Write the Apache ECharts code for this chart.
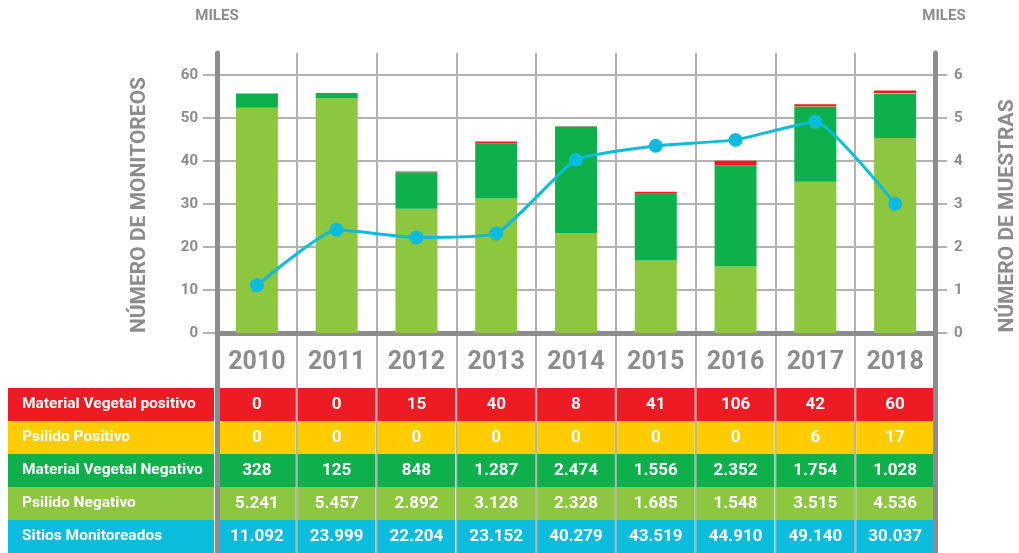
<!DOCTYPE html>
<html>
<head>
<meta charset="utf-8">
<title>Monitoreos</title>
<script src="https://cdn.jsdelivr.net/npm/echarts@6/dist/echarts.min.js"></script>
<style>
  html, body { margin: 0; padding: 0; background: #fff; }
  #chart { width: 1019px; height: 553px; }
</style>
</head>
<body>
<div id="chart"></div>
<script>
const years = ['2010', '2011', '2012', '2013', '2014', '2015', '2016', '2017', '2018'];
const rowLabels = ['Material Vegetal positivo', 'Psilido Positivo', 'Material Vegetal Negativo', 'Psilido Negativo', 'Sitios Monitoreados'];
const matVegPositivo = [0, 0, 15, 40, 8, 41, 106, 42, 60];
const psilidoPositivo = [0, 0, 0, 0, 0, 0, 0, 6, 17];
const matVegNegativo = [328, 125, 848, 1287, 2474, 1556, 2352, 1754, 1028];
const psilidoNegativo = [5241, 5457, 2892, 3128, 2328, 1685, 1548, 3515, 4536];
const sitiosMonitoreados = [11092, 23999, 22204, 23152, 40279, 43519, 44910, 49140, 30037];

const gray = '#8c8c8c';
const gridGray = '#b3b3b3';
const rowColors = ['#ed1c24', '#ffcc00', '#0db04b', '#8dc63f', '#0bbcdc'];

// values in miles for the axes
function miles(arr) { return arr.map(v => v / 1000); }
function fmt(v) { return String(v).replace(/\B(?=(\d{3})+(?!\d))/g, '.'); }

const tableRows = [matVegPositivo, psilidoPositivo, matVegNegativo, psilidoNegativo, sitiosMonitoreados];
const tableData = [];
const tableText = [];
tableRows.forEach((row, r) => {
    row.forEach((v, c) => {
        tableData.push([c, r]);
        tableText.push(fmt(v));
    });
});

const rich = {};
rowColors.forEach((col, i) => {
    rich['r' + i] = {
        backgroundColor: col,
        color: '#fff',
        fontFamily: 'Roboto',
        fontWeight: 'bold',
        fontSize: 15.5,
        width: 192,
        height: 33,
        lineHeight: 33,
        align: 'left',
        padding: [0, 0, 0, 14]
    };
});

const chart = echarts.init(document.getElementById('chart'));
const option = {
    animation: false,
    textStyle: { fontFamily: 'Roboto' },
    grid: [
        { left: 217, right: 84, top: 75, height: 258 },
        { left: 217, right: 84, top: 388, height: 165 },
        { left: 217, right: 84, top: 53, bottom: 0 }
    ],
    xAxis: [
        {
            gridIndex: 0, type: 'category', data: years,
            axisLine: { lineStyle: { color: gray, width: 5 } },
            axisTick: { show: false },
            axisLabel: { color: gray, fontSize: 25, fontWeight: 'bold', margin: 17 }
        },
        {
            gridIndex: 1, type: 'category', data: years, show: false
        },
        {
            gridIndex: 2, type: 'category', data: years,
            axisLine: { show: false }, axisTick: { show: false }, axisLabel: { show: false },
            splitLine: { show: true, lineStyle: { color: gridGray, width: 2 } }
        }
    ],
    yAxis: [
        {
            gridIndex: 0, type: 'value', min: 0, max: 60, interval: 10,
            name: 'MILES', nameLocation: 'end', nameGap: 51,
            nameTextStyle: { color: gray, fontSize: 15, fontWeight: 'bold', align: 'center' },
            axisLine: { show: false },
            axisTick: { show: true, length: 14, lineStyle: { color: gridGray, width: 2 } },
            axisLabel: { color: gray, fontSize: 15, fontWeight: 'bold', margin: 19 },
            splitLine: { lineStyle: { color: gridGray, width: 2 } }
        },
        {
            gridIndex: 0, type: 'value', position: 'right', min: 0, max: 6, interval: 1,
            name: 'MILES', nameLocation: 'end', nameGap: 51,
            nameTextStyle: { color: gray, fontSize: 15, fontWeight: 'bold', align: 'center', padding: [0, 0, 0, 18] },
            axisLine: { show: false },
            axisTick: { show: true, length: 12, lineStyle: { color: gridGray, width: 2 } },
            axisLabel: { color: gray, fontSize: 15, fontWeight: 'bold', margin: 19 },
            splitLine: { show: false }
        },
        {
            gridIndex: 1, type: 'category', data: rowLabels, inverse: true,
            axisLine: { show: false }, axisTick: { show: false },
            axisLabel: {
                margin: 3,
                formatter: (value, index) => '{r' + index + '|' + value + '}',
                rich: rich
            }
        },
        {
            gridIndex: 2, type: 'value', z: 5,
            axisLine: { show: true, lineStyle: { color: gray, width: 5 } },
            axisTick: { show: false }, axisLabel: { show: false }, splitLine: { show: false }
        },
        {
            gridIndex: 2, type: 'value', position: 'right', z: 5,
            axisLine: { show: true, lineStyle: { color: gray, width: 5 } },
            axisTick: { show: false }, axisLabel: { show: false }, splitLine: { show: false }
        }
    ],
    graphic: [
        {
            type: 'text', x: 140, y: 205, rotation: Math.PI / 2,
            style: { text: 'NÚMERO DE MONITOREOS', fill: gray, font: 'bold 21px Roboto', align: 'center', verticalAlign: 'middle' }
        },
        {
            type: 'text', x: 1008, y: 216, rotation: Math.PI / 2,
            style: { text: 'NÚMERO DE MUESTRAS', fill: gray, font: 'bold 21px Roboto', align: 'center', verticalAlign: 'middle' }
        }
    ],
    series: [
        {
            name: 'Psilido Negativo', type: 'bar', stack: 'm', xAxisIndex: 0, yAxisIndex: 1,
            barWidth: 42, data: miles(psilidoNegativo), itemStyle: { color: rowColors[3] }
        },
        {
            name: 'Material Vegetal Negativo', type: 'bar', stack: 'm', xAxisIndex: 0, yAxisIndex: 1,
            data: miles(matVegNegativo), itemStyle: { color: rowColors[2] }
        },
        {
            name: 'Psilido Positivo', type: 'bar', stack: 'm', xAxisIndex: 0, yAxisIndex: 1,
            data: miles(psilidoPositivo), itemStyle: { color: rowColors[1] }
        },
        {
            name: 'Material Vegetal positivo', type: 'bar', stack: 'm', xAxisIndex: 0, yAxisIndex: 1,
            data: miles(matVegPositivo), itemStyle: { color: rowColors[0] }
        },
        {
            name: 'Sitios Monitoreados', type: 'line', xAxisIndex: 0, yAxisIndex: 0,
            data: miles(sitiosMonitoreados), smooth: 0.15,
            symbol: 'circle', symbolSize: 14,
            lineStyle: { color: rowColors[4], width: 3 },
            itemStyle: { color: rowColors[4] },
            z: 4
        },
        {
            type: 'custom', xAxisIndex: 1, yAxisIndex: 2,
            data: tableData,
            renderItem: function (params, api) {
                const c = api.coord([api.value(0), api.value(1)]);
                const s = api.size([1, 1]);
                const r = api.value(1);
                return {
                    type: 'group',
                    children: [
                        {
                            type: 'rect',
                            shape: { x: c[0] - s[0] / 2 + 1, y: c[1] - s[1] / 2, width: s[0] - 2, height: s[1] },
                            style: { fill: rowColors[r] }
                        },
                        {
                            type: 'text',
                            style: {
                                text: tableText[params.dataIndex], x: c[0], y: c[1],
                                align: 'center', verticalAlign: 'middle',
                                fill: '#fff', font: 'bold 17px Roboto'
                            }
                        }
                    ]
                };
            }
        }
    ]
};
chart.setOption(option);
</script>
</body>
</html>
